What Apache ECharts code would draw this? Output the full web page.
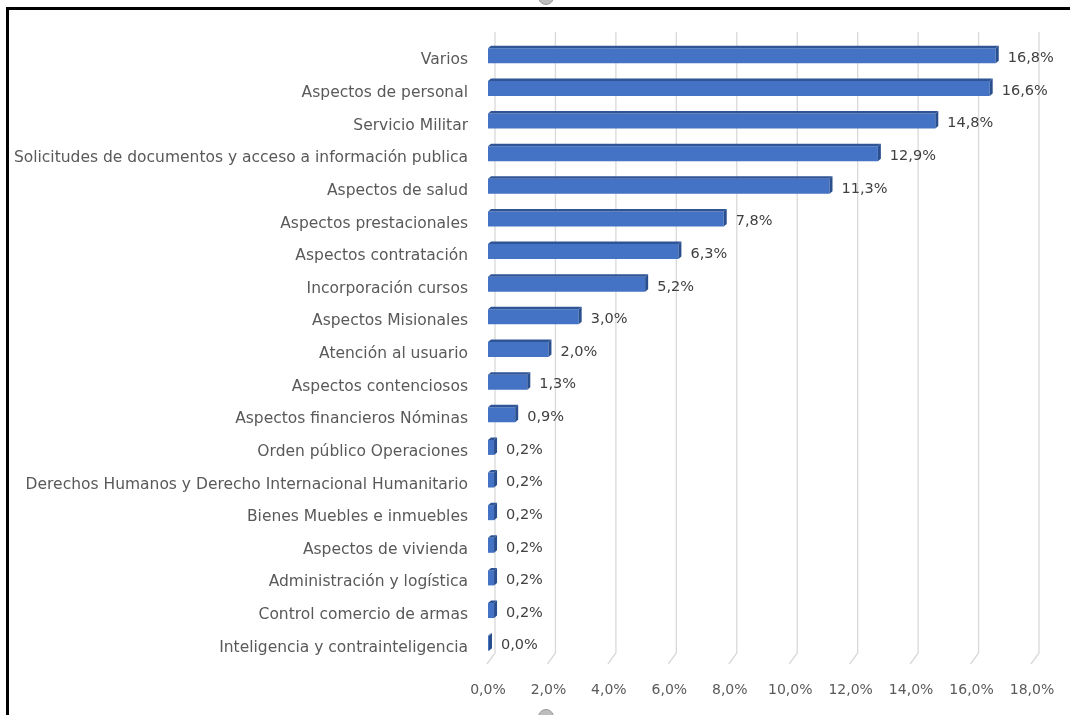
<!DOCTYPE html>
<html>
<head>
<meta charset="utf-8">
<script src="https://cdn.jsdelivr.net/npm/echarts@6/dist/echarts.min.js"></script>
<style>
html,body{margin:0;padding:0;background:#fff;}
#frame{position:absolute;left:6px;top:7px;width:1064px;height:708px;border-top:3px solid #000;border-left:3px solid #000;box-sizing:border-box;}
#chart{position:absolute;left:0;top:0;width:1070px;height:715px;}
.handle{position:absolute;width:14px;height:14px;border-radius:50%;background:#bdbdbd;border:1px solid #9a9a9a;}
</style>
</head>
<body>
<div id="frame"></div>
<div id="chart"></div>
<div class="handle" style="left:538px;top:-11px;"></div>
<div class="handle" style="left:538px;top:709px;"></div>
<script>
const categories = [
  "Varios",
  "Aspectos de personal",
  "Servicio Militar",
  "Solicitudes de documentos y acceso a información publica",
  "Aspectos de salud",
  "Aspectos prestacionales",
  "Aspectos contratación",
  "Incorporación cursos",
  "Aspectos Misionales",
  "Atención al usuario",
  "Aspectos contenciosos",
  "Aspectos financieros Nóminas",
  "Orden público Operaciones",
  "Derechos Humanos y Derecho Internacional Humanitario",
  "Bienes Muebles e inmuebles",
  "Aspectos de vivienda",
  "Administración y logística",
  "Control comercio de armas",
  "Inteligencia y contrainteligencia"
];
const values = [16.8, 16.6, 14.8, 12.9, 11.3, 7.8, 6.3, 5.2, 3.0, 2.0, 1.3, 0.9, 0.2, 0.2, 0.2, 0.2, 0.2, 0.2, 0.0];
const xTicks = [0, 2, 4, 6, 8, 10, 12, 14, 16, 18];

const fmt = v => v.toFixed(1).replace('.', ',') + '%';
const FONT = 'DejaVu Sans';

const chart = echarts.init(document.getElementById('chart'), null, {renderer: 'canvas'});

const DX = 7;

chart.setOption({
  animation: false,
  backgroundColor: 'transparent',
  grid: {left: 488, right: 38, top: 44, bottom: 51, containLabel: false},
  xAxis: {
    type: 'value', min: 0, max: 18, interval: 2,
    axisLine: {show: false}, axisTick: {show: false}, splitLine: {show: false},
    axisLabel: {formatter: fmt, color: '#595959', fontSize: 14, fontFamily: FONT, margin: 19}
  },
  yAxis: {
    type: 'category', data: categories, inverse: true,
    axisLine: {show: false}, axisTick: {show: false}, splitLine: {show: false},
    axisLabel: {color: '#595959', fontSize: 15.5, fontFamily: FONT, margin: 20}
  },
  series: [
    {
      type: 'custom',
      z: 1,
      silent: true,
      data: xTicks.map(v => [v]),
      encode: {x: 0},
      renderItem: function (params, api) {
        const cs = params.coordSys;
        const x = api.coord([api.value(0), 0])[0];
        const top = cs.y - 12;
        const bottom = cs.y + cs.height;
        return {
          type: 'polyline',
          shape: {points: [[x + DX, top], [x + DX, bottom - 11], [x - 1, bottom]]},
          style: {stroke: '#d9d9d9', lineWidth: 1.3, fill: null}
        };
      }
    },
    {
      type: 'custom',
      z: 2,
      data: values.map((v, i) => [v, i]),
      encode: {x: 0, y: 1},
      renderItem: function (params, api) {
        const v = api.value(0);
        const i = api.value(1);
        const p0 = api.coord([0, i]);
        const p1 = api.coord([v, i]);
        const yc = p0[1] - 5;
        const x0 = p0[0];
        const x1 = Math.max(p1[0], x0 + 1);
        const h1 = yc - 7, h2 = yc + 8;
        const d = 3, e = 2.5;
        return {
          type: 'group',
          children: [
            {type: 'rect', shape: {x: x0, y: h1, width: x1 - x0, height: h2 - h1},
             style: {fill: '#4472c4'}},
            {type: 'polygon', shape: {points: [[x0, h1], [x0 + d, h1 - e], [x1 + d, h1 - e], [x1, h1]]},
             style: {fill: '#2f5597'}},
            {type: 'polygon', shape: {points: [[x1, h1], [x1 + d, h1 - e], [x1 + d, h2 - e], [x1, h2]]},
             style: {fill: '#2a4f8f'}},
            {type: 'text', style: {
              text: fmt(v), x: x1 + d + 9, y: yc + 3,
              textVerticalAlign: 'middle', verticalAlign: 'middle',
              fill: '#404040', fontSize: 14.5, fontFamily: FONT
            }}
          ]
        };
      }
    }
  ]
});
</script>
</body>
</html>
